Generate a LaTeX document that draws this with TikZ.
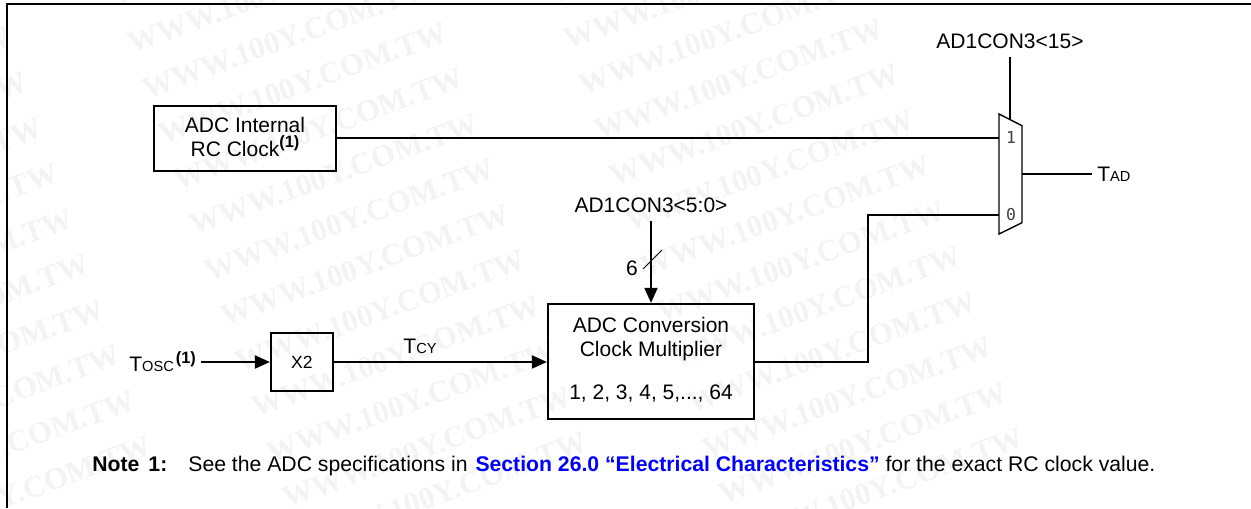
\documentclass[tikz,border=0pt]{standalone}
\usepackage{fontspec}
\setmainfont{Liberation Sans}
\newfontfamily\wmfont{Liberation Serif}[BoldFont={Liberation Serif Bold}]
\newfontfamily\digitfont{DejaVu Sans Mono}
\usetikzlibrary{arrows.meta}
\definecolor{wmgray}{HTML}{F3F3F3}
\definecolor{linkblue}{HTML}{0000FF}
\newcommand{\tagfont}{\fontsize{10.5}{12}\selectfont}
\newcommand{\subfont}{\fontsize{7.3}{10}\selectfont}
\newcommand{\noteref}{\raisebox{4.3pt}{\fontsize{8.2}{10}\selectfont\bfseries (1)}}
\tikzset{
  blockbox/.style={draw, line width=1.1pt, inner sep=0pt, align=center, font=\tagfont},
  wire/.style={line width=1pt},
  tag/.style={inner sep=0pt, anchor=base, font=\tagfont},
  muxdigit/.style={inner sep=0pt, text=black!75, font=\digitfont\fontsize{8.2}{10}\selectfont},
  wmark/.style={inner sep=0pt, anchor=base west, rotate=20, text=wmgray, font=\wmfont\bfseries\fontsize{15.4}{18}\selectfont}
}
\begin{document}
\begin{tikzpicture}[x=0.5pt, y=-0.5pt, >={Triangle[length=7.5pt,width=6.5pt]}]
  \useasboundingbox (0,0) rectangle (1251,508);
  % watermark
  \begin{scope}
    \clip (0,0) rectangle (1251,508);
    \foreach \c/\cx/\cy in {l/-304/58, m/132/54, r/568/50}
      \foreach \k in {-3,...,11}
        \node[wmark] (wm\c\k) at ({\cx+15.5*\k},{\cy+45.5*\k}) {WWW.100Y.COM.TW};
  \end{scope}
  % frame
  \draw[line width=1.3pt] (7,508) -- (7,4) -- (1251,4);
  % blocks
  \node[blockbox, minimum width=91pt, minimum height=32.5pt] (rc) at (245,138.5) {ADC Internal\\RC Clock\noteref\rule[-2pt]{0pt}{0pt}};
  \node[blockbox, minimum width=31pt, minimum height=29pt, font=\fontsize{8.8}{10}\selectfont] (xtwo) at (302,362) {X2};
  \node[blockbox, minimum width=103pt, minimum height=57.5pt] (mult) at (651,361.5) {ADC Conversion\\Clock Multiplier\\[9.5pt]1, 2, 3, 4, 5,..., 64\rule[-3pt]{0pt}{0pt}};
  % mux
  \coordinate (muxa) at (999,114);
  \coordinate (muxb) at (1022,125.7);
  \coordinate (muxc) at (1022,222.7);
  \coordinate (muxd) at (999,234);
  \draw[line width=0.7pt] (muxa) -- (muxb) -- (muxc) -- (muxd) -- cycle;
  \node[muxdigit] (one) at (1011,137.5) {1};
  \node[muxdigit] (zero) at (1011,215) {0};
  \coordinate (onein) at (999,138);
  \coordinate (zeroin) at (999,215);
  \coordinate (muxout) at (1022,174);
  \coordinate (muxsel) at (1010,119.6);
  % labels
  \node[tag] (sellabel) at (1010,49) {AD1CON3<15>};
  \coordinate (selstart) at (1010,57);
  \node[tag, anchor=base west] (tad) at (1097,181) {T{\subfont AD}};
  \coordinate (tadend) at (1092,174);
  \node[tag] (bitslabel) at (651,212.7) {AD1CON3<5:0>};
  \coordinate (bitsstart) at (651,221);
  \node[tag] (six) at (632,275) {6};
  \coordinate (slasha) at (643,269);
  \coordinate (slashb) at (662,250);
  \node[tag, anchor=base west] (tosc) at (129,371.7) {T{\subfont OSC}\hspace{1pt}\noteref};
  \coordinate (toscout) at (201,362);
  \node[tag] (tcy) at (420,353) {T{\subfont CY}};
  \coordinate (bend) at (868,215);
  % connectors
  \draw[wire] (rc.east |- onein) -- (onein);
  \draw[wire] (selstart) -- (muxsel);
  \draw[wire] (muxout) -- (tadend);
  \draw[wire, ->] (bitsstart) -- (mult.north);
  \draw[line width=0.5pt] (slasha) -- (slashb);
  \draw[wire, ->] (toscout) -- (xtwo.west);
  \draw[wire, ->] (xtwo.east) -- (mult.west |- xtwo);
  \draw[wire] (mult.east |- xtwo) -| (bend) -- (zeroin);
  % note
  \node[tag, anchor=base west, font=\fontsize{10.6}{12}\selectfont] (note) at (92,471.7) {\textbf{Note\hspace{4.5pt}1:}\hspace{10.5pt}See the ADC specifications in\hspace{1pt} \textcolor{linkblue}{\textbf{Section 26.0 “Electrical Characteristics”}} for the exact RC clock value.};
\end{tikzpicture}
\end{document}
